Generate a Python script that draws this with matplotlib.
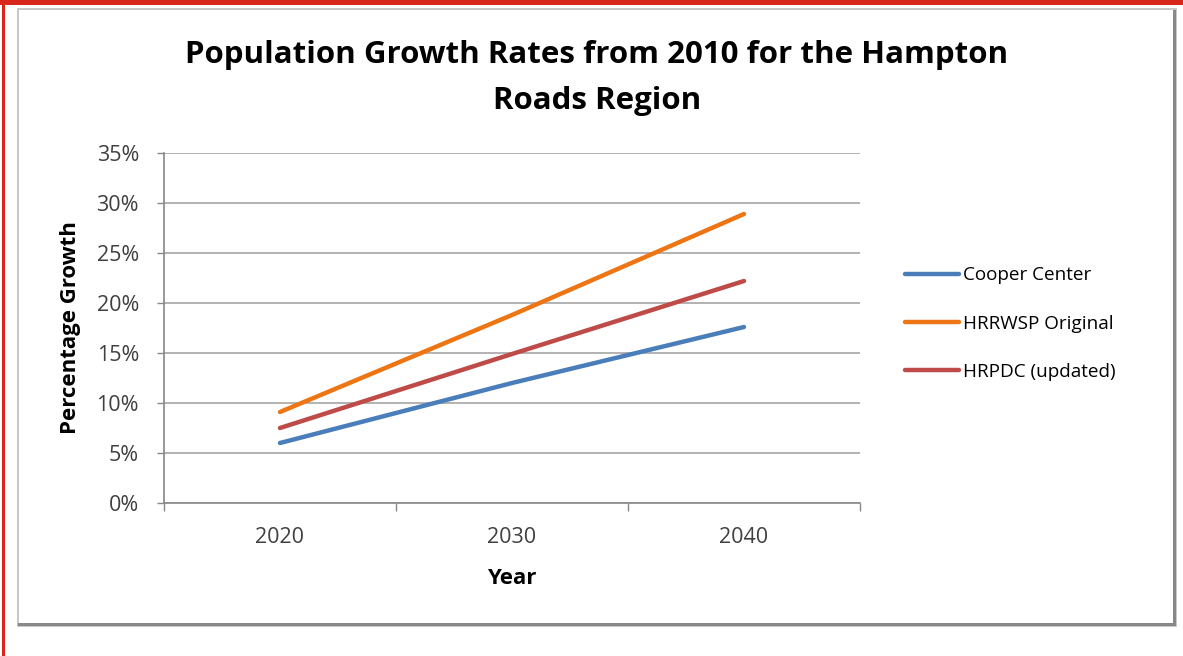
import matplotlib.pyplot as plt
from matplotlib.patches import Rectangle
from matplotlib.ticker import FuncFormatter, FixedLocator

years = ["2020", "2030", "2040"]
cooper = [6.0, 12.0, 17.6]
hrrwsp = [9.1, 18.8, 28.9]
hrpdc = [7.5, 14.9, 22.2]
series_names = ["Cooper Center", "HRRWSP Original", "HRPDC (updated)"]
colors = ["#4A7EBB", "#ED7514", "#BE4B48"]

plt.rcParams['font.family'] = ['Open Sans', 'DejaVu Sans']

W, H = 1183, 656
fig = plt.figure(figsize=(W / 100, H / 100), dpi=100)

def px(x0, y0, w, h, **kw):
    # rectangle in pixel coords (top-left origin), kept behind the axes
    fig.patches.append(Rectangle((x0 / W, 1 - (y0 + h) / H), w / W, h / H,
                                 transform=fig.transFigure, zorder=-5, **kw))

# outer red border (top + left) and grey chart frame
px(0, 0, W, 5, color="#D9261C", lw=0)
px(2, 0, 2.5, H, color="#D9261C", lw=0)
px(18, 9, 1158, 617, facecolor="white", edgecolor="#BDBDBD", lw=1.2)
px(1173, 10, 3, 616, color="#888888", lw=0)
px(18, 623, 1158, 3, color="#888888", lw=0)

ax = fig.add_axes([164 / W, 1 - 503 / H, (860 - 164) / W, (503 - 153) / H])
ax.set_facecolor("none")
x = range(len(years))
for vals, name, c in zip([cooper, hrrwsp, hrpdc], series_names, colors):
    ax.plot(x, vals, color=c, lw=3.2, solid_capstyle="round", label=name)

ax.set_xlim(-0.5, 2.5)
ax.set_ylim(0, 35)
ax.set_yticks(range(0, 36, 5))
ax.yaxis.set_major_formatter(FuncFormatter(lambda v, p: f"{v:.0f}%"))
ax.set_xticks(list(x))
ax.set_xticklabels(years)
ax.xaxis.set_minor_locator(FixedLocator([-0.5, 0.5, 1.5, 2.5]))
ax.tick_params(axis="x", which="major", length=0, pad=17, labelsize=15.5, colors="#404040")
ax.tick_params(axis="x", which="minor", length=6, color="#888888", width=1)
ax.tick_params(axis="y", length=5, color="#888888", width=1, pad=13, labelsize=15.5, labelcolor="#404040")
ax.grid(axis="y", color="#A6A6A6", lw=1.2)
ax.set_axisbelow(True)
for s in ["top", "right"]:
    ax.spines[s].set_visible(False)
for s in ["left", "bottom"]:
    ax.spines[s].set_color("#888888")
    ax.spines[s].set_linewidth(1.2)

ax.set_xlabel("Year", fontsize=16, fontweight="bold", labelpad=15)
ax.set_ylabel("Percentage Growth", fontsize=16, fontweight="bold", labelpad=11)

fig.text(597 / W, 1 - 55 / H, "Population Growth Rates from 2010 for the Hampton",
         ha="center", va="center", fontsize=22.5, fontweight="bold")
fig.text(597 / W, 1 - 101 / H, "Roads Region",
         ha="center", va="center", fontsize=22.5, fontweight="bold")

ax.legend(loc="upper left", bbox_to_anchor=(896 / W, 1 - 257 / H),
          bbox_transform=fig.transFigure, frameon=False, fontsize=13.6,
          handlelength=2.85, handletextpad=0.2, labelspacing=1.6, borderpad=0)

fig.savefig("out.png", dpi=100)
